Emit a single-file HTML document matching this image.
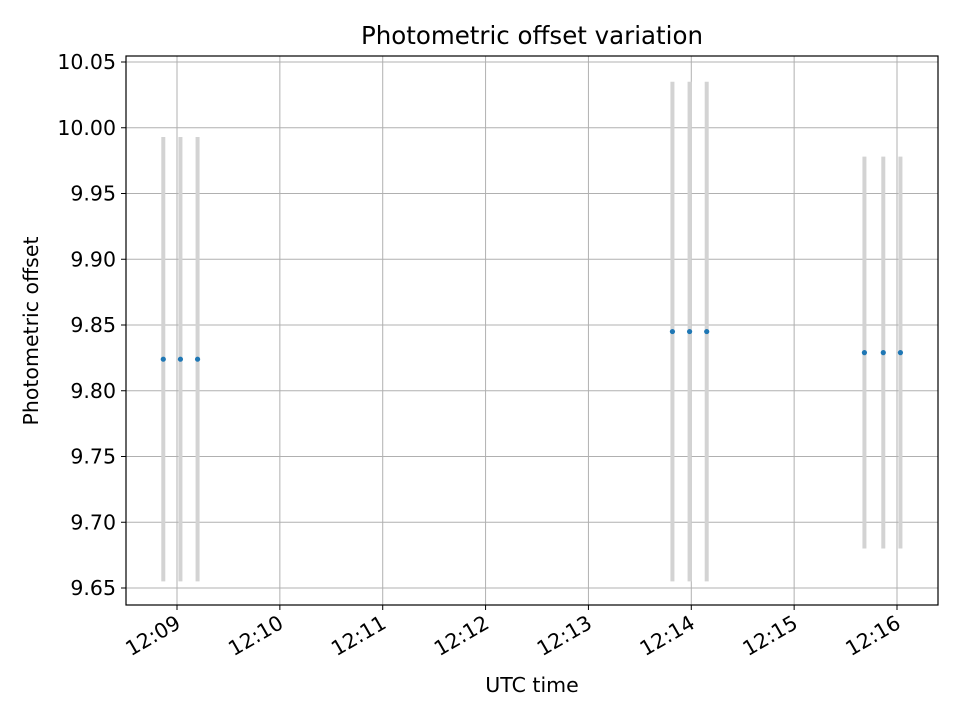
<!DOCTYPE html>
<html><head><meta charset="utf-8"><style>
body{margin:0;background:#fff;}
svg{display:block;font-family:"DejaVu Sans","Liberation Sans",sans-serif;}
</style></head><body>
<svg id="chart" width="960" height="720" xmlns="http://www.w3.org/2000/svg">
<rect x="0" y="0" width="960" height="720" fill="#fff"/>
<g id="grid"></g>
<g id="bars"></g>
<g id="pts"></g>
<rect x="126" y="56" width="812" height="549" fill="none" stroke="#000" stroke-width="1.2"/>
<g id="axes"></g>
<text x="532" y="44" text-anchor="middle" font-size="24.5">Photometric offset variation</text>
<text x="532" y="692" text-anchor="middle" font-size="20.5">UTC time</text>
<text transform="translate(38,331) rotate(-90)" text-anchor="middle" font-size="20.5">Photometric offset</text>
</svg>
<script>
// times in seconds after 12:00:00
const times = [532, 542, 552, 829, 839, 849, 941, 952, 962];
const values = [9.824, 9.824, 9.824, 9.845, 9.845, 9.845, 9.829, 9.829, 9.829];
const errors = [0.169, 0.169, 0.169, 0.190, 0.190, 0.190, 0.149, 0.149, 0.149];
const xTicks = [540, 600, 660, 720, 780, 840, 900, 960];
const xTickLabels = ["12:09","12:10","12:11","12:12","12:13","12:14","12:15","12:16"];
const yTicks = [9.65, 9.70, 9.75, 9.80, 9.85, 9.90, 9.95, 10.00, 10.05];
const yTickLabels = ["9.65","9.70","9.75","9.80","9.85","9.90","9.95","10.00","10.05"];

const NS = "http://www.w3.org/2000/svg";
const L = 126, R = 938, T = 56, B = 605;
function xs(t){ return 177 + (t - 540) * (102.857 / 60); }
function ys(v){ return 62 + (10.05 - v) * 1315; }
function mk(tag, attrs, parent){
  const e = document.createElementNS(NS, tag);
  for (const k in attrs) e.setAttribute(k, attrs[k]);
  parent.appendChild(e); return e;
}
const grid = document.getElementById('grid');
const axes = document.getElementById('axes');
xTicks.forEach((t, i) => {
  const x = xs(t);
  const g = mk('line', {x1:x, x2:x, y1:T, y2:B, stroke:'#b0b0b0', 'stroke-width':1}, grid);
  
  
  const tk = mk('line', {x1:x, x2:x, y1:B, y2:B+5, stroke:'#000', 'stroke-width':1}, axes);
  
  
  const ax = x + 5, ay = B + 22;
  const tx = mk('text', {x:ax, y:ay, 'font-size':20.5, 'text-anchor':'end', transform:`rotate(-30 ${ax} ${ay})`}, axes);
  
  
  tx.textContent = xTickLabels[i];
});
yTicks.forEach((v, i) => {
  const y = ys(v);
  const g = mk('line', {x1:L, x2:R, y1:y, y2:y, stroke:'#b0b0b0', 'stroke-width':1}, grid);
  
  
  const tk = mk('line', {x1:L-5, x2:L, y1:y, y2:y, stroke:'#000', 'stroke-width':1}, axes);
  
  
  const tx = mk('text', {x:L-10, y:y+7, 'font-size':20.5, 'text-anchor':'end'}, axes);
  
  
  tx.textContent = yTickLabels[i];
});
const bars = document.getElementById('bars');
const pts = document.getElementById('pts');
times.forEach((t, i) => {
  const x = xs(t);
  const b = mk('line', {x1:x, x2:x, y1:ys(values[i]+errors[i]), y2:ys(values[i]-errors[i]), stroke:'#d3d3d3', 'stroke-width':4}, bars);
  
  
  const c = mk('circle', {cx:x, cy:ys(values[i]), r:2.6, fill:'#1f77b4'}, pts);
  
  
});
</script>
</body></html>
